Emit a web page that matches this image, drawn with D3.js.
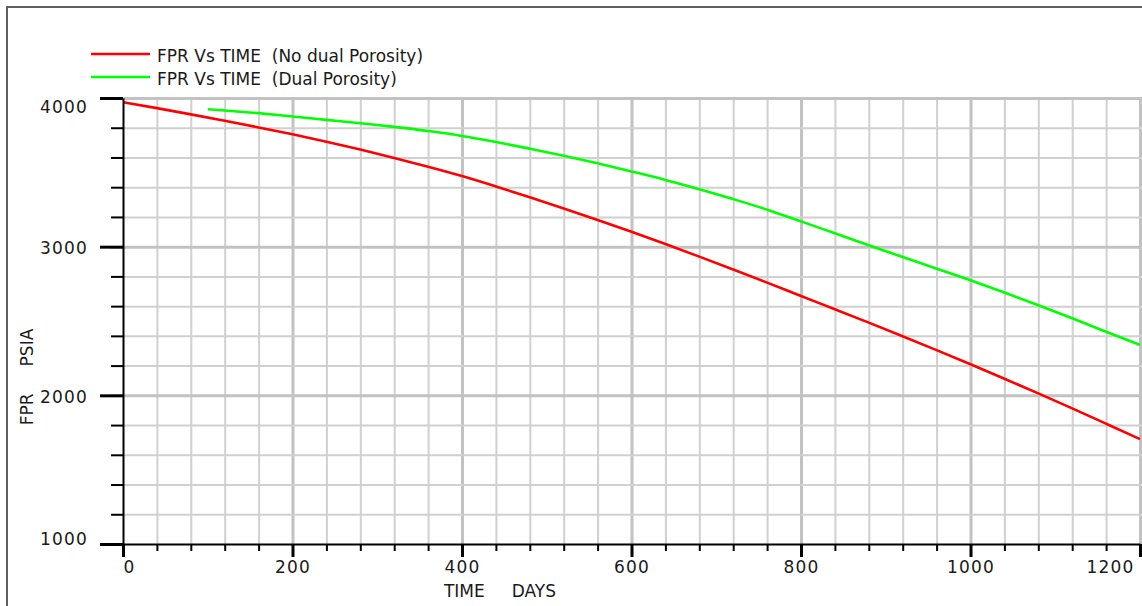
<!DOCTYPE html>
<html>
<head>
<meta charset="utf-8">
<script src="https://cdn.jsdelivr.net/npm/d3@7"></script>
<style>
	body { margin: 0; background: #ffffff; }
	svg { display: block; }
	.tickLabel { font-family: "DejaVu Sans", sans-serif; font-size: 17px; fill: #1a1a1a; letter-spacing: 1.2px; }
	.title { font-family: "DejaVu Sans", sans-serif; font-size: 17px; fill: #1a1a1a; white-space: pre; }
	.legendText { font-family: "DejaVu Sans", sans-serif; font-size: 17px; fill: #1a1a1a; white-space: pre; }
</style>
</head>
<body>
<svg id="chart" width="1142" height="606"></svg>
<script>
	// FPR (psia) against time (days)
	var timeNoDual = [0, 40, 80, 120, 160, 200, 240, 280, 320, 360, 400, 440, 480, 520, 560, 600,
		640, 680, 720, 760, 800, 840, 880, 920, 960, 1000, 1040, 1080, 1120, 1160, 1200];
	var fprNoDual = [3972, 3932, 3890, 3847, 3802, 3756, 3706, 3653, 3597, 3538, 3475, 3405, 3332, 3257, 3180, 3101,
		3018, 2933, 2846, 2758, 2668, 2579, 2489, 2397, 2304, 2209, 2112, 2013, 1912, 1809, 1705];

	var timeDual = [100, 120, 160, 200, 240, 280, 320, 360, 400, 440, 480, 520, 560, 600,
		640, 680, 720, 760, 800, 840, 880, 920, 960, 1000, 1040, 1080, 1120, 1160, 1200];
	var fprDual = [3924, 3916, 3898, 3876, 3853, 3830, 3806, 3778, 3745, 3704, 3659, 3612, 3561, 3506,
		3449, 3387, 3320, 3249, 3170, 3090, 3010, 2930, 2852, 2774, 2692, 2606, 2518, 2428, 2339];

	var seriesNames = ["FPR Vs TIME  (No dual Porosity)", "FPR Vs TIME  (Dual Porosity)"];

	var xMajorTicks = [0, 200, 400, 600, 800, 1000, 1200];
	var xMinorTicks = d3.range(0, 1201, 40);
	var yMajorTicks = [1000, 2000, 3000, 4000];
	var yMinorTicks = d3.range(1000, 4001, 200);

	var xTitle = "TIME     DAYS";
	var yTitle = "FPR     PSIA";

	var svg = d3.select("#chart");

	svg.append("rect")
		.attr("width", 1142)
		.attr("height", 606)
		.attr("fill", "#ffffff");

	// frame around the plot, only left and top edge are on the picture
	svg.append("rect")
		.attr("x", 7)
		.attr("y", 7)
		.attr("width", 1300)
		.attr("height", 800)
		.attr("fill", "none")
		.attr("stroke", "#5e5e5e")
		.attr("stroke-width", 2);

	var x = d3.scaleLinear().domain([0, 1200]).range([123, 1140]);
	var y = d3.scaleLinear().domain([1000, 4000]).range([544, 98]);

	// grid
	var gridV = svg.append("g")
		.attr("transform", "translate(0," + y(4000) + ")")
		.call(d3.axisBottom(x)
			.tickValues(xMinorTicks.filter(function(d) { return d > 0; }))
			.tickSize(y(1000) - y(4000))
			.tickFormat(""));
	gridV.select(".domain").remove();
	gridV.selectAll(".tick line")
		.attr("stroke", function(d) { return d % 200 === 0 ? "#c2c2c2" : "#d0d0d0"; })
		.attr("stroke-width", function(d) { return d % 200 === 0 ? 3 : 2; });

	var gridH = svg.append("g")
		.attr("transform", "translate(" + x(0) + ",0)")
		.call(d3.axisRight(y)
			.tickValues(yMinorTicks.filter(function(d) { return d > 1000; }))
			.tickSize(1142 - x(0))
			.tickFormat(""));
	gridH.select(".domain").remove();
	gridH.selectAll(".tick line")
		.attr("stroke", function(d) { return d % 1000 === 0 ? "#c2c2c2" : "#d0d0d0"; })
		.attr("stroke-width", function(d) { return d % 1000 === 0 ? 3 : 2; });

	// curves
	svg.append("clipPath")
		.attr("id", "plotClip")
		.append("rect")
		.attr("x", x(0))
		.attr("y", 90)
		.attr("width", 1142 - x(0))
		.attr("height", y(1000) - 90);

	var line = d3.line()
		.x(function(d) { return x(d[0]); })
		.y(function(d) { return y(d[1]); })
		.curve(d3.curveMonotoneX);

	var series = [d3.zip(timeNoDual, fprNoDual), d3.zip(timeDual, fprDual)];
	var colors = ["#ff0000", "#00ff00"];

	svg.append("g")
		.attr("clip-path", "url(#plotClip)")
		.selectAll("path")
		.data(series)
		.join("path")
		.attr("d", line)
		.attr("fill", "none")
		.attr("stroke", function(d, i) { return colors[i]; })
		.attr("stroke-width", 2.6);

	// y axis
	var yMinor = svg.append("g")
		.attr("transform", "translate(" + x(0) + ",0)")
		.call(d3.axisLeft(y).tickValues(yMinorTicks).tickSize(12).tickSizeOuter(0).tickFormat(""));
	yMinor.selectAll(".tick line").attr("stroke", "#000").attr("stroke-width", 2);
	yMinor.select(".domain").attr("stroke", "#000").attr("stroke-width", 2);

	var yMajor = svg.append("g")
		.attr("transform", "translate(" + x(0) + ",0)")
		.call(d3.axisLeft(y).tickValues(yMajorTicks).tickSize(23).tickSizeOuter(0).tickPadding(12)
			.tickFormat(d3.format("d")));
	yMajor.select(".domain").remove();
	yMajor.selectAll(".tick line").attr("stroke", "#000").attr("stroke-width", 3);
	yMajor.selectAll(".tick text")
		.attr("class", "tickLabel")
		.attr("font-family", null)
		.attr("dy", null)
		.attr("y", function(d) {
			// end labels are pushed inside the axis range
			if (d === 4000) return 14;
			if (d === 1000) return 0;
			return 7;
		});

	// x axis
	var xMinor = svg.append("g")
		.attr("transform", "translate(0," + y(1000) + ")")
		.call(d3.axisBottom(x).tickValues(xMinorTicks).tickSize(7).tickSizeOuter(0).tickFormat(""));
	xMinor.selectAll(".tick line").attr("stroke", "#000").attr("stroke-width", 2);
	xMinor.select(".domain").attr("stroke", "#000").attr("stroke-width", 2);

	var xMajor = svg.append("g")
		.attr("transform", "translate(0," + y(1000) + ")")
		.call(d3.axisBottom(x).tickValues(xMajorTicks).tickSize(13).tickSizeOuter(0)
			.tickFormat(d3.format("d")));
	xMajor.select(".domain").remove();
	xMajor.selectAll(".tick line").attr("stroke", "#000").attr("stroke-width", 3);
	xMajor.selectAll(".tick text")
		.attr("class", "tickLabel")
		.attr("font-family", null)
		.attr("dy", null)
		.attr("y", 29)
		.attr("text-anchor", function(d) {
			if (d === 0) return "start";
			if (d === 1200) return "end";
			return "middle";
		})
		.attr("x", function(d) { return d === 1200 ? -6 : 0; });

	// axis titles
	svg.append("text")
		.attr("class", "title")
		.attr("x", 500)
		.attr("y", 597)
		.attr("text-anchor", "middle")
		.text(xTitle);

	svg.append("text")
		.attr("class", "title")
		.attr("transform", "translate(33,377) rotate(-90)")
		.attr("text-anchor", "middle")
		.text(yTitle);

	// legend
	var legend = svg.append("g")
		.selectAll("g")
		.data(seriesNames)
		.join("g")
		.attr("transform", function(d, i) { return "translate(91," + (54 + i * 23) + ")"; });

	legend.append("line")
		.attr("x1", 0)
		.attr("x2", 59)
		.attr("stroke", function(d, i) { return colors[i]; })
		.attr("stroke-width", 2.6);

	legend.append("text")
		.attr("class", "legendText")
		.attr("x", 66)
		.attr("y", 8)
		.text(function(d) { return d; });
</script>
</body>
</html>
